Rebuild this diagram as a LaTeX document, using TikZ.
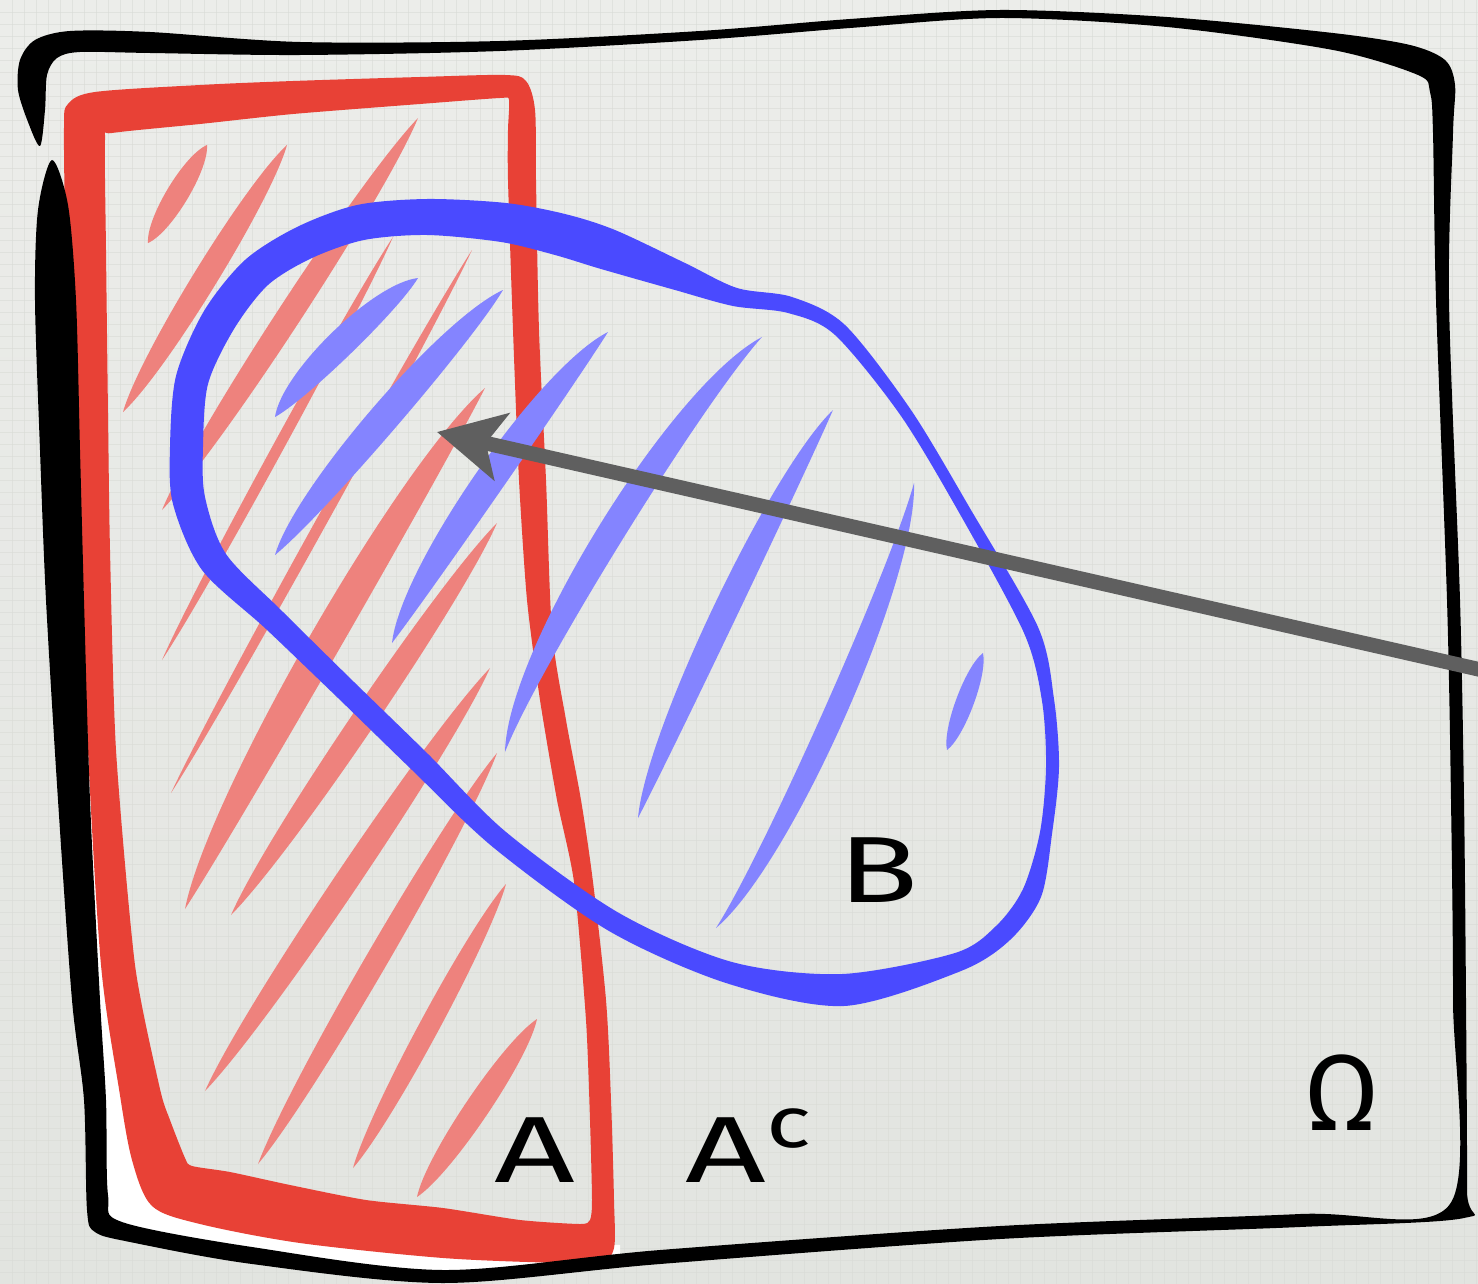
\documentclass[tikz,border=0pt]{standalone}
\usepackage{fontspec}
\newfontfamily\lblfont{Fira Sans}
\usetikzlibrary{calc,arrows.meta}
\definecolor{bgtop}{HTML}{ECEDEA}
\definecolor{bgbot}{HTML}{E2E4E0}
\definecolor{gridc}{HTML}{D9DBD6}
\definecolor{redline}{HTML}{E84136}
\definecolor{redhatch}{HTML}{EE827D}
\definecolor{blueline}{HTML}{4A4AFF}
\definecolor{bluehatch}{HTML}{8484FF}
\definecolor{arrowgray}{HTML}{5F5F5F}
\newcommand\hstroke[5]{%
  \pgfmathsetmacro\hsu{#4+#3/3}%
  \pgfmathsetmacro\hsd{#4-#3/3}%
  \fill[#5] (#1) .. controls ($(#1)!0.18!(#2)!\hsu pt!90:(#2)$) and ($(#1)!0.82!(#2)!\hsu pt!90:(#2)$) .. (#2)
     .. controls ($(#1)!0.82!(#2)!\hsd pt!90:(#2)$) and ($(#1)!0.18!(#2)!\hsd pt!90:(#2)$) .. (#1) -- cycle;}
\tikzset{
  gridline/.style={draw=gridc, line width=0.25pt, opacity=0.6},
  lbl/.style={font=\lblfont\fontsize{47}{47}\selectfont, inner sep=0pt, text=black},
  arrowline/.style={draw=arrowgray, line width=7.3pt, -{Stealth[length=33pt,width=34pt,inset=8pt]}},
}
\begin{document}
\begin{tikzpicture}[x=0.5pt,y=-0.5pt]
\useasboundingbox (0,0) rectangle (1478,1284);
% background
\shade[top color=bgtop, bottom color=bgbot] (0,0) rectangle (1478,1284);
\foreach \gx in {12,24,...,1476} \draw[gridline] (\gx,0) -- (\gx,1284);
\foreach \gy in {12,24,...,1284} \draw[gridline] (0,\gy) -- (1478,\gy);
% white band between frame and red rectangle
\fill[white] (70,400) -- (80,700) -- (90,1000) -- (100,1150) -- (105,1230) -- (250,1258) -- (443,1277) -- (620,1262) -- (620,1245) -- (300,1230) -- (150,1190) -- (125,1080) -- (110,900) -- (95,600) -- (85,400) -- cycle;
% red hatching
\hstroke{148,243}{207,145}{22}{0}{redhatch}
\hstroke{123,412}{287,145}{24}{0}{redhatch}
\hstroke{162,510}{418,118}{24}{0}{redhatch}
\hstroke{162,660}{393,237}{11}{0}{redhatch}
\hstroke{171,793}{472,250}{11}{0}{redhatch}
\hstroke{185,909}{485,388}{32}{8}{redhatch}
\hstroke{231,915}{497,523}{24}{0}{redhatch}
\hstroke{205,1091}{490,668}{24}{0}{redhatch}
\hstroke{258,1164}{497,753}{22}{0}{redhatch}
\hstroke{353,1168}{506,884}{20}{0}{redhatch}
\hstroke{417,1197}{537,1019}{24}{0}{redhatch}
% red rectangle A
\fill[redline, even odd rule]
  plot[smooth cycle, tension=0.5] coordinates {(64,128) (68,104) (95,92) (200,85) (293,81) (420,77) (505,75) (526,81) (535,110) (536,180) (539,330) (546,480) (552,630) (566,720) (581,800) (593,882) (606,1000) (611,1100) (614,1200) (614,1248) (600,1263) (560,1263) (443,1258) (300,1243) (200,1224) (152,1206) (132,1160) (119,1089) (101,965) (88,750) (82,550) (74,413) (66,250)}
  plot[smooth cycle, tension=0.4] coordinates {(105,140) (112,133) (200,124) (293,114) (420,104) (500,98) (509,100) (508,130) (508,180) (513,330) (519,480) (527,600) (540,700) (557,800) (574,882) (586,1020) (590,1120) (592,1200) (590,1220) (580,1224) (520,1220) (443,1208) (366,1200) (290,1185) (230,1172) (192,1166) (185,1158) (170,1120) (160,1089) (135,965) (116,750) (110,550) (108,413) (106,250)};
% black frame Omega
\fill[black] plot[smooth cycle, tension=0.5] coordinates {
  (40,146) (28,122) (18,90) (20,60) (35,40) (70,31) (150,32) (300,42) (500,41) (700,31) (850,19) (1000,10) (1167,17) (1333,33) (1410,45) (1445,60) (1455,85) (1453,133) (1449,300) (1460,600) (1464,800) (1466,1000) (1467,1190) (1464,1218) (1300,1227) (1000,1239) (660,1264) (443,1283) (252,1264) (130,1242) (95,1232) (87,1210) (84,1100) (72,1000) (58,800) (46,600) (40,450) (35,300) (38,210) (52,160)
  (68,205) (76,300) (80,450) (84,600) (90,800) (100,1000) (106,1100) (108,1195) (122,1222) (252,1247) (443,1270) (660,1250) (1000,1226) (1300,1214) (1450,1204) (1453,1000) (1451,800) (1447,600) (1436,300) (1433,133) (1430,92) (1418,75) (1333,50) (1167,27) (1000,18) (850,28) (700,40) (500,51) (300,55) (150,53) (80,52) (57,58) (47,75) (45,110)};
% blue hatching
\hstroke{275,417}{418,278}{28}{4.5}{bluehatch}
\hstroke{275,555}{503,290}{30}{4.5}{bluehatch}
\hstroke{392,643}{608,332}{30}{8.5}{bluehatch}
\hstroke{505,752}{762,337}{27}{17}{bluehatch}
\hstroke{638,818}{833,410}{25}{7}{bluehatch}
\hstroke{716,928}{914,483}{22}{-14}{bluehatch}
\hstroke{947,750}{983,653}{18}{0}{bluehatch}
% blue set B
\fill[blueline, even odd rule]
  plot[smooth cycle] coordinates {(427,199) (506,203) (565,214) (615,230) (685,263) (737,288) (792,297) (845,325) (911,410) (971,510) (1038,627) (1054,699) (1059,767) (1052,834) (1041,897) (1010,940) (961,971) (844,1006) (726,983) (609,931) (494,848) (412,770) (338,698) (266,629) (202,570) (173,504) (170,447) (176,376) (204,311) (245,260) (297,227) (357,205)}
  plot[smooth cycle] coordinates {(427,235) (501,242) (555,255) (601,269) (675,290) (733,306) (788,313) (835,335) (901,416) (961,516) (1024,633) (1042,701) (1046,767) (1040,832) (1023,889) (996,926) (955,953) (842,974) (732,962) (619,913) (506,832) (428,754) (354,682) (282,611) (226,554) (205,497) (203,447) (208,384) (234,329) (268,285) (312,258) (364,240)};
% labels
\node[lbl, anchor=base] (labA) at (535,1182) {\scalebox{1.5}[1]{A}};
\node[lbl, anchor=base west] (labAc) at (685,1182) {\scalebox{1.5}[1]{A}\raisebox{17.5pt}{\fontsize{36}{36}\selectfont\scalebox{1.3}[1]{c}}};
\node[lbl, anchor=base] (labB) at (878,902) {\scalebox{1.4}[1]{B}};
\node[lbl, anchor=base, font=\lblfont\fontsize{54}{54}\selectfont] (labO) at (1342,1130) {Ω};
% arrow
\coordinate (arrowtail) at (1495,673);
\coordinate (arrowtip) at (437,432);
\draw[arrowline] (arrowtail) -- (arrowtip);
\end{tikzpicture}
\end{document}
